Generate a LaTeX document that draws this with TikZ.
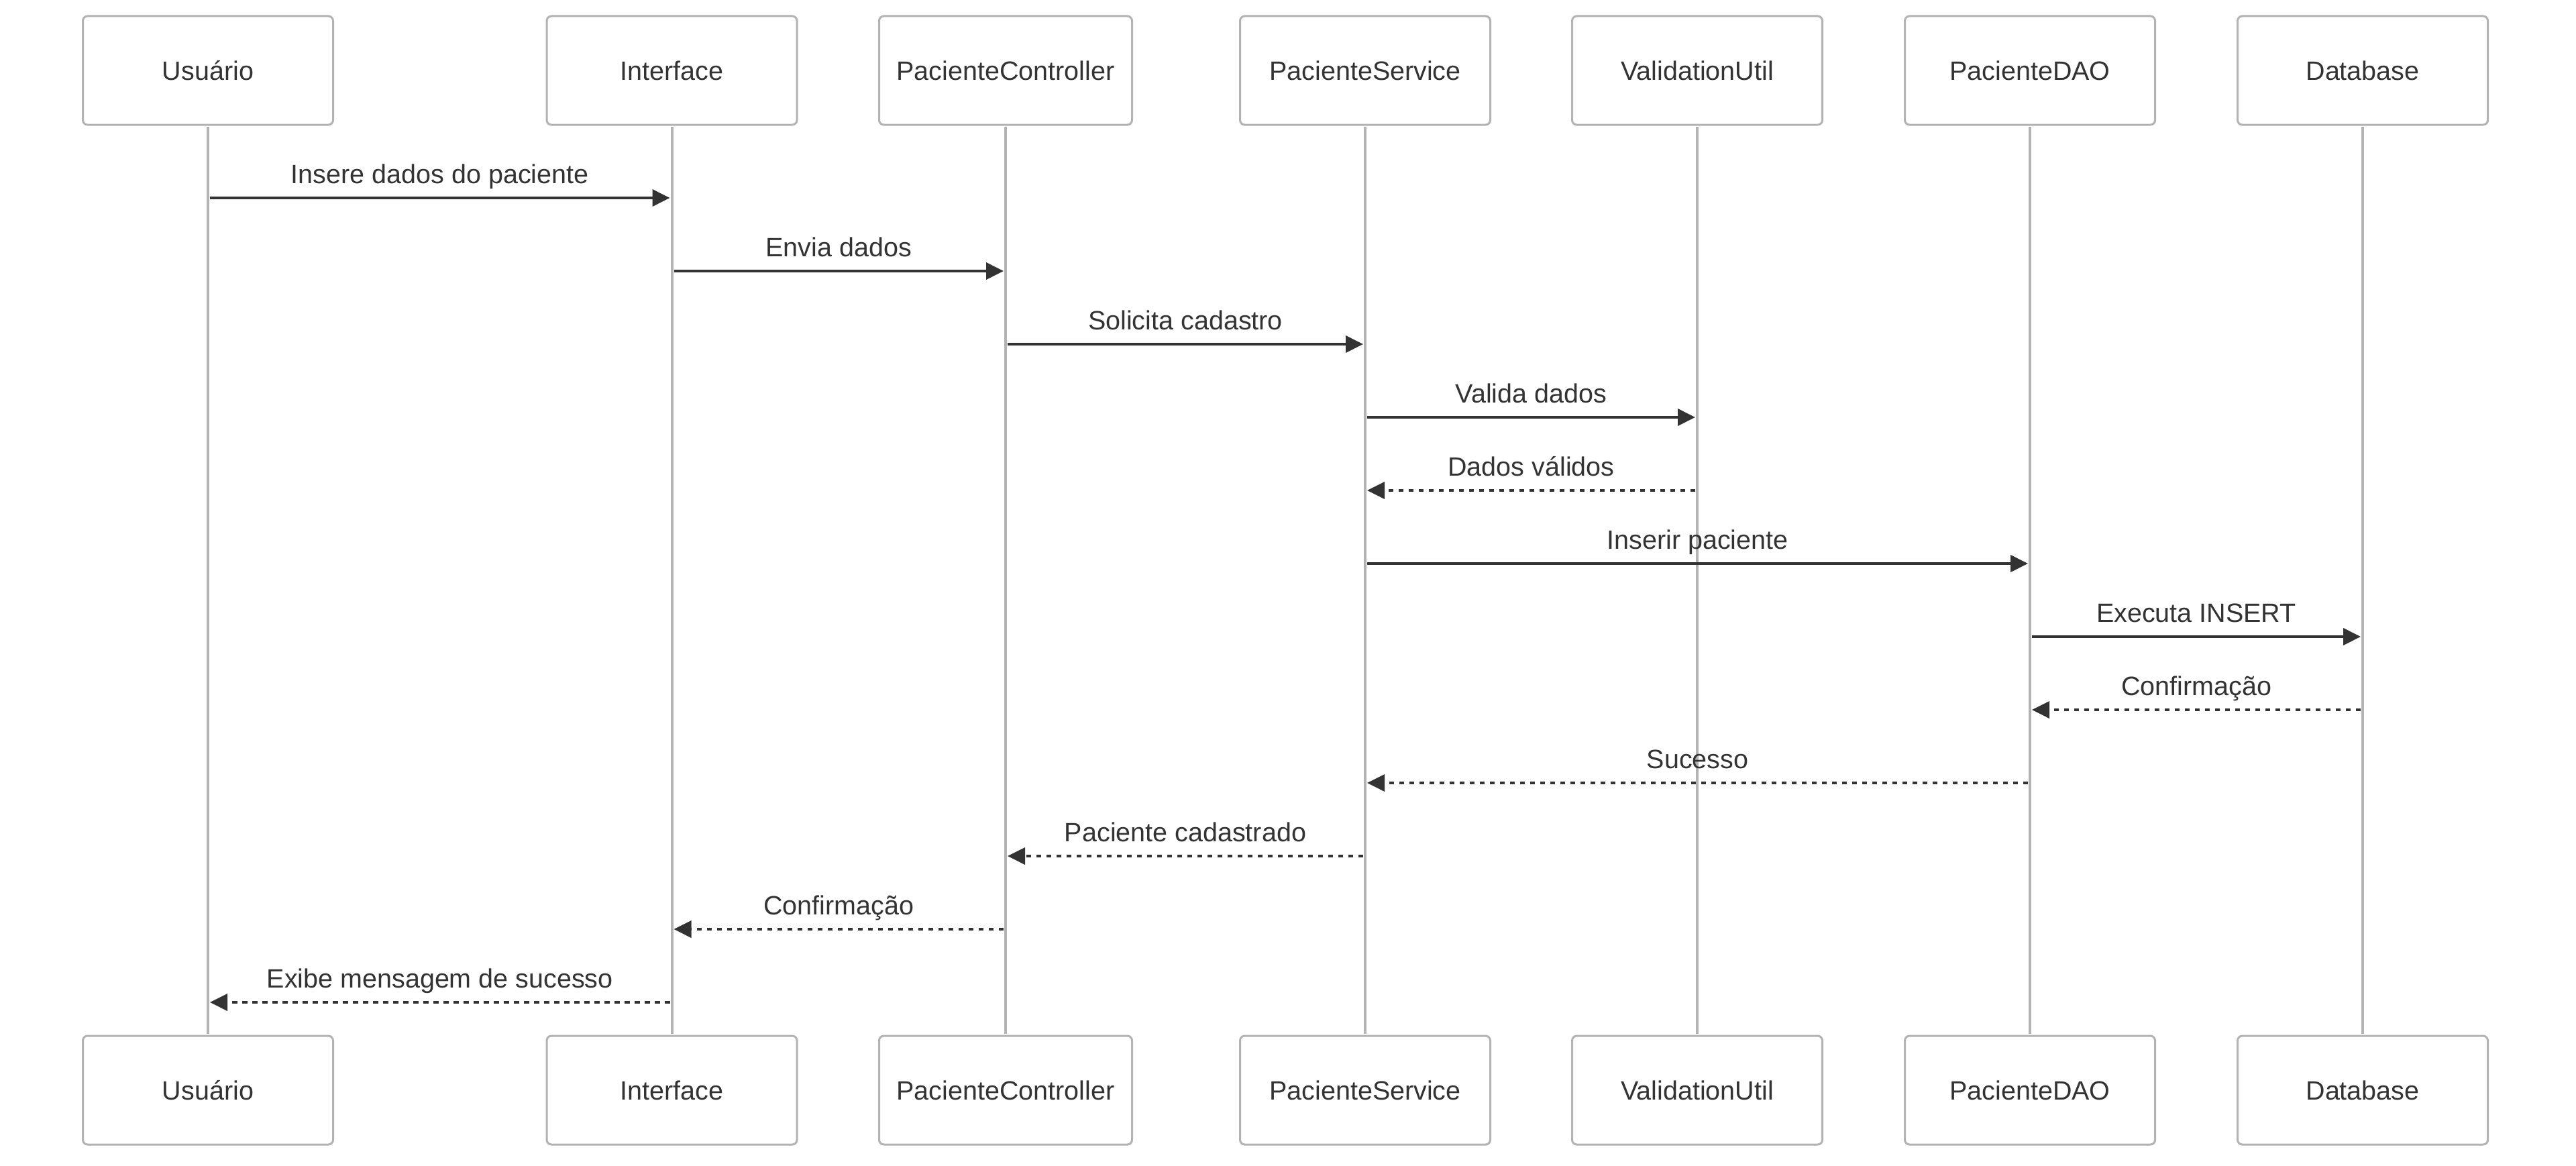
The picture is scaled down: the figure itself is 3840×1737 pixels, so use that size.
\documentclass[tikz,border=0pt]{standalone}
\usepackage{fontspec}
\setmainfont{Liberation Sans}
\usetikzlibrary{arrows.meta}
\definecolor{txt}{HTML}{333333}
\definecolor{lgray}{HTML}{B3B3B3}
\begin{document}
\begin{tikzpicture}[x=1pt,y=-1pt,
  actor/.style={draw=lgray, line width=3pt, fill=white, rounded corners=7pt,
    minimum width=373pt, minimum height=162pt, inner sep=0pt, text=txt,
    font=\fontsize{39.5}{47}\selectfont},
  lifeline/.style={draw=lgray, line width=4pt},
  msg/.style={draw=txt, line width=3.8pt, shorten <=3pt, shorten >=3pt,
    -{Triangle[length=26pt,width=25pt]}},
  ret/.style={msg, dash pattern=on 7.5pt off 7.5pt},
  lbl/.style={midway, anchor=base, yshift=22pt, text=txt, inner sep=0pt,
    font=\fontsize{39.5}{47}\selectfont}]
\fill[white] (0,0) rectangle (3840,1737);
\useasboundingbox (0,0) rectangle (3840,1737);
% top actors
\node[actor] (uT) at (310,105) {Usuário};
\node[actor] (iT) at (1001.5,105) {Interface};
\node[actor, minimum width=377pt] (cT) at (1499,105) {PacienteController};
\node[actor] (sT) at (2035,105) {PacienteService};
\node[actor] (vT) at (2530,105) {ValidationUtil};
\node[actor] (dT) at (3026,105) {PacienteDAO};
\node[actor] (bT) at (3522,105) {Database};
% bottom actors
\node[actor] (uB) at (310,1625) {Usuário};
\node[actor] (iB) at (1001.5,1625) {Interface};
\node[actor, minimum width=377pt] (cB) at (1499,1625) {PacienteController};
\node[actor] (sB) at (2035,1625) {PacienteService};
\node[actor] (vB) at (2530,1625) {ValidationUtil};
\node[actor] (dB) at (3026,1625) {PacienteDAO};
\node[actor] (bB) at (3522,1625) {Database};
% lifelines
\foreach \a in {u,i,c,s,v,d,b}{
  \draw[lifeline] ([yshift=-1.5pt]\a T.south) -- ([yshift=1.5pt]\a B.north);
}
% message rows
\foreach \k [evaluate=\k as \yy using 295+109*(\k-1)] in {1,...,12}{
  \coordinate (r\k) at (0,\yy);
}
\draw[msg] (uT.south |- r1) -- node[lbl]{Insere dados do paciente} (iT.south |- r1);
\draw[msg] (iT.south |- r2) -- node[lbl]{Envia dados} (cT.south |- r2);
\draw[msg] (cT.south |- r3) -- node[lbl]{Solicita cadastro} (sT.south |- r3);
\draw[msg] (sT.south |- r4) -- node[lbl]{Valida dados} (vT.south |- r4);
\draw[ret] (vT.south |- r5) -- node[lbl]{Dados válidos} (sT.south |- r5);
\draw[msg] (sT.south |- r6) -- node[lbl]{Inserir paciente} (dT.south |- r6);
\draw[msg] (dT.south |- r7) -- node[lbl]{Executa INSERT} (bT.south |- r7);
\draw[ret] (bT.south |- r8) -- node[lbl]{Confirmação} (dT.south |- r8);
\draw[ret] (dT.south |- r9) -- node[lbl]{Sucesso} (sT.south |- r9);
\draw[ret] (sT.south |- r10) -- node[lbl]{Paciente cadastrado} (cT.south |- r10);
\draw[ret] (cT.south |- r11) -- node[lbl]{Confirmação} (iT.south |- r11);
\draw[ret] (iT.south |- r12) -- node[lbl]{Exibe mensagem de sucesso} (uT.south |- r12);
\end{tikzpicture}
\end{document}
